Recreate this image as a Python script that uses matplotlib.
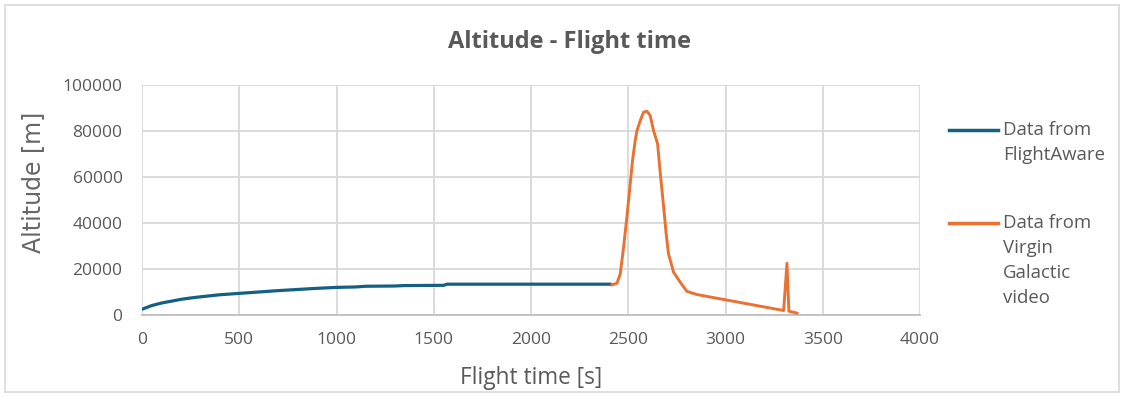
import matplotlib.pyplot as plt
from matplotlib.lines import Line2D
from matplotlib.patches import Rectangle

# FlightAware track (stepped climb, then level)
fa_time = [0, 50, 100, 150, 200, 250, 300, 400, 500, 600, 700, 800, 900,
           1000, 1100, 1150, 1300, 1350, 1550, 1570, 2000, 2410]
fa_alt = [2500, 4100, 5200, 6000, 6800, 7400, 7900, 8800, 9400, 10000, 10600,
          11100, 11600, 12000, 12200, 12500, 12600, 12800, 12900, 13400, 13400, 13400]

# Virgin Galactic video readings
vg_time = [2416, 2442, 2459, 2476, 2493, 2510, 2522, 2536, 2545, 2562, 2579,
           2596, 2613, 2630, 2651, 2665, 2682, 2695, 2707, 2733, 2767, 2801,
           2853, 3299, 3316, 3326, 3368]
vg_alt = [13100, 13800, 17900, 29500, 42500, 57000, 67200, 75900, 80200, 84600,
          88200, 88600, 86700, 80200, 74400, 61400, 46900, 35300, 26600, 18600,
          14300, 10300, 8900, 1950, 22500, 1650, 800]

x_ticks = [0, 500, 1000, 1500, 2000, 2500, 3000, 3500, 4000]
y_ticks = [0, 20000, 40000, 60000, 80000, 100000]

BLUE = '#156082'
ORANGE = '#E97132'
TXT = '#595959'

W, H = 1124, 397
plt.rcParams['font.family'] = ['Open Sans', 'DejaVu Sans']

fig = plt.figure(figsize=(W / 100, H / 100), dpi=100)
ax = fig.add_axes([142 / W, 1 - 315 / H, (920 - 142) / W, (315 - 85) / H])

ax.plot(fa_time, fa_alt, color=BLUE, lw=2.3, solid_capstyle='round', zorder=3)
ax.plot(vg_time, vg_alt, color=ORANGE, lw=2.1, solid_joinstyle='round', zorder=3)

ax.set_xlim(0, 4000)
ax.set_ylim(0, 100000)
ax.set_xticks(x_ticks)
ax.set_yticks(y_ticks)
ax.grid(True, color='#d9d9d9', lw=1.3)
ax.set_axisbelow(True)
for s in ['top', 'right', 'left']:
    ax.spines[s].set_visible(False)
ax.spines['bottom'].set_color('#bfbfbf')
ax.spines['bottom'].set_linewidth(1.3)
ax.tick_params(length=0, labelsize=12.5, labelcolor=TXT)
ax.tick_params(axis='y', pad=14)
ax.tick_params(axis='x', pad=12)

ax.set_xlabel('Flight time [s]', fontsize=16.3, color=TXT, va='center')
ax.xaxis.set_label_coords(0.5, (315 - 378) / 230)
ax.set_ylabel('Altitude [m]', fontsize=17, color='#666666', va='center',
              family=['DejaVu Sans'])
ax.yaxis.set_label_coords((33 - 142) / 778, (315 - 182) / 230)

fig.text(569 / W, 1 - 42 / H, 'Altitude - Flight time', fontsize=17,
         fontweight='bold', color=TXT, ha='center', va='center')

# legend drawn by hand so the sample sits on the first text line
def legend_entry(y_px, color, lines):
    yf = 1 - y_px / H
    fig.add_artist(Line2D([949 / W, 998 / W], [yf, yf], color=color, lw=2.5,
                          transform=fig.transFigure))
    for i, t in enumerate(lines):
        fig.text(1003 / W, 1 - (y_px + i * 25) / H, t, fontsize=13.4,
                 color=TXT, va='center', ha='left')

legend_entry(130, BLUE, ['Data from', 'FlightAware'])
legend_entry(223, ORANGE, ['Data from', 'Virgin', 'Galactic', 'video'])

fig.add_artist(Rectangle((5 / W, 5 / H), 1114 / W, 387 / H,
                         transform=fig.transFigure, fill=False,
                         edgecolor='#d9d9d9', lw=1.2))

fig.savefig('out.png', dpi=100)
